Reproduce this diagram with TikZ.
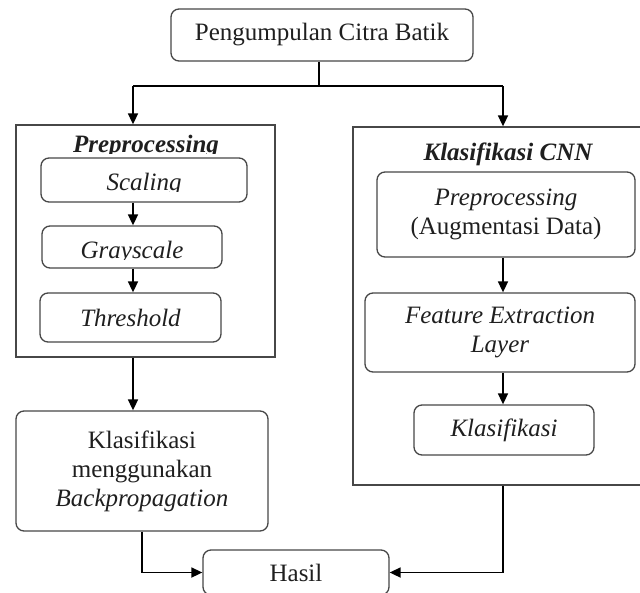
\documentclass[tikz,border=0pt]{standalone}
\usepackage{fontspec}
\setmainfont{Liberation Serif}
\usetikzlibrary{arrows.meta}
\begin{document}
\begin{tikzpicture}[x=1pt,y=-1pt,
  box/.style={draw=black!72, line width=1.3pt, rounded corners=8pt, inner sep=0pt, align=center, text=black!88, font=\fontsize{25}{29}\selectfont},
  frame/.style={draw=black!72, line width=1.3pt, inner sep=0pt},
  lbl/.style={inner sep=0pt, text=black!88, font=\fontsize{25}{29}\selectfont},
  arr/.style={line width=1.7pt, -{Triangle[length=11pt,width=10pt]}},
  ln/.style={line width=1.7pt}]
\path[use as bounding box] (0,0) rectangle (640,592);
\clip (0,0) rectangle (640,592);

% top
\node[box, minimum width=302pt, minimum height=52pt] (top) at (322,35) {Pengumpulan Citra Batik};

% left frame
\node[frame, minimum width=259pt, minimum height=232pt] (prebox) at (145.5,241) {};
\begin{scope}
  \clip (16,125) rectangle (275,153);
  \node[lbl, anchor=base] (pretitle) at (146,152) {\bfseries\itshape Preprocessing};
\end{scope}
\node[box, minimum width=206pt, minimum height=44pt] (scaling) at (144,180) {};
\begin{scope}
  \clip (41,158) rectangle (247,191.5);
  \node[lbl, anchor=base] (scalingtext) at (144,190.5) {\itshape Scaling};
\end{scope}
\node[box, minimum width=180pt, minimum height=42pt] (gray) at (132,247) {};
\begin{scope}
  \clip (42,226) rectangle (222,259);
  \node[lbl, anchor=base] (graytext) at (132,258) {\itshape Grayscale};
\end{scope}
\node[box, minimum width=181pt, minimum height=49pt] (thresh) at (130.5,317.5) {\itshape Threshold};

\node[box, minimum width=252pt, minimum height=120pt] (backprop) at (142,471)
  {Klasifikasi\\menggunakan\\\itshape Backpropagation};

\node[box, minimum width=186pt, minimum height=45pt] (hasil) at (296,572.5) {Hasil};

% right frame
\node[frame, minimum width=297pt, minimum height=358pt] (cnnbox) at (501.5,306) {};
\node[lbl, anchor=base] (cnntitle) at (508,160) {\bfseries\itshape Klasifikasi CNN};
\node[box, minimum width=258pt, minimum height=85pt] (aug) at (506,214.5)
  {\itshape Preprocessing\\(Augmentasi Data)};
\node[box, minimum width=270pt, minimum height=79pt] (feat) at (500,332.5)
  {\itshape Feature Extraction\\\itshape Layer};
\node[box, minimum width=180pt, minimum height=50pt] (klas) at (504,430) {\itshape Klasifikasi};

% connectors
\coordinate (split) at (319,86);
\coordinate (lt) at (133,86);
\coordinate (rt) at (503,86);
\draw[ln] (top.south -| split) -- (split);
\draw[ln] (lt) -- (rt);
\draw[arr] (lt) -- (lt |- prebox.north);
\draw[arr] (rt) -- (rt |- cnnbox.north);
\draw[arr] (scaling.south -| lt) -- (gray.north -| lt);
\draw[arr] (gray.south -| lt) -- (thresh.north -| lt);
\draw[arr] (prebox.south -| lt) -- (backprop.north -| lt);
\draw[arr] (aug.south -| rt) -- (feat.north -| rt);
\draw[arr] (feat.south -| rt) -- (klas.north -| rt);
\draw[arr] (backprop.south) |- (hasil.west);
\draw[arr] (cnnbox.south -| rt) |- (hasil.east);
\end{tikzpicture}
\end{document}
